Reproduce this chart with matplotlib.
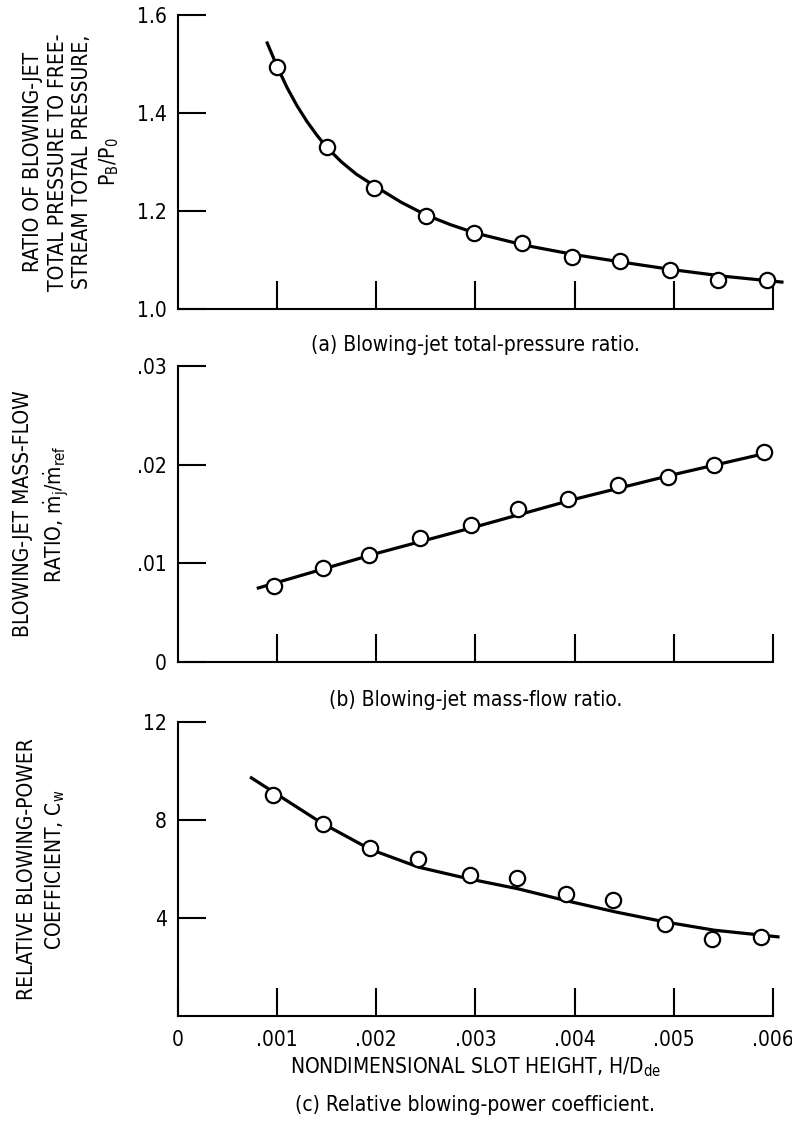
import matplotlib
matplotlib.use('Agg')
from matplotlib import pyplot as plt

# (a) blowing-jet total-pressure ratio
x_a = [0.00100, 0.00150, 0.00198, 0.00250, 0.00299, 0.00347, 0.00397, 0.00446, 0.00496, 0.00545, 0.00594]
y_a = [1.495, 1.330, 1.247, 1.189, 1.156, 1.135, 1.107, 1.099, 1.079, 1.060, 1.060]
curve_a_x = [0.00090, 0.00100, 0.00110, 0.00120, 0.00130, 0.00140, 0.00150, 0.00165, 0.00180, 0.00200,
             0.00225, 0.00250, 0.00275, 0.00300, 0.00350, 0.00400, 0.00450, 0.00500, 0.00550, 0.00609]
curve_a_y = [1.543, 1.495, 1.452, 1.415, 1.383, 1.355, 1.330, 1.300, 1.275, 1.249,
             1.218, 1.192, 1.172, 1.155, 1.130, 1.111, 1.095, 1.080, 1.067, 1.055]

# (b) blowing-jet mass-flow ratio
x_b = [0.00097, 0.00146, 0.00193, 0.00244, 0.00295, 0.00343, 0.00393, 0.00444, 0.00494, 0.00541, 0.00591]
y_b = [0.00767, 0.00955, 0.01086, 0.01257, 0.01387, 0.01548, 0.01647, 0.01798, 0.01877, 0.02000, 0.02130]
curve_b_x = [0.00081, 0.00200, 0.00300, 0.00400, 0.00500, 0.00595]
curve_b_y = [0.0075, 0.0110, 0.0137, 0.0165, 0.0190, 0.0212]

# (c) relative blowing-power coefficient
x_c = [0.00096, 0.00146, 0.00194, 0.00242, 0.00294, 0.00342, 0.00391, 0.00439, 0.00491, 0.00539, 0.00588]
y_c = [9.00, 7.85, 6.86, 6.41, 5.76, 5.62, 4.99, 4.72, 3.77, 3.16, 3.22]
curve_c_x = [0.00074, 0.00144, 0.00194, 0.00243, 0.00293, 0.00343, 0.00392, 0.00442, 0.00491, 0.00541, 0.00605]
curve_c_y = [9.72, 7.90, 6.80, 6.07, 5.60, 5.19, 4.70, 4.24, 3.84, 3.50, 3.23]

x_ticks = [0.001, 0.002, 0.003, 0.004, 0.005, 0.006]
x_ticklabels = ['0', '.001', '.002', '.003', '.004', '.005', '.006']

plt.rcParams['font.family'] = ['DejaVu Sans']
plt.rcParams['font.stretch'] = 'condensed'
plt.rcParams['mathtext.fontset'] = 'custom'
plt.rcParams['mathtext.rm'] = 'DejaVu Sans:stretch=condensed'

fig = plt.figure(figsize=(7.92, 11.32), dpi=100)
left, width = 0.2247, 0.7513
ax_a = fig.add_axes([left, 0.7270, width, 0.2597])
ax_b = fig.add_axes([left, 0.4152, width, 0.2615])
ax_c = fig.add_axes([left, 0.1025, width, 0.2597])


def style(ax):
    for s in ['top', 'right']:
        ax.spines[s].set_visible(False)
    for s in ['left', 'bottom']:
        ax.spines[s].set_linewidth(1.5)
    ax.set_xlim(0, 0.006)
    ax.tick_params(direction='in', length=20, width=1.5, labelsize=15, pad=8)
    ax.tick_params(axis='x', pad=10)


def draw(ax, cx, cy, px, py):
    ax.plot(cx, cy, color='black', lw=2.3, clip_on=False, zorder=2)
    ax.plot(px, py, 'o', ms=11, mfc='white', mec='black', mew=1.6, clip_on=False, zorder=3)


style(ax_a)
draw(ax_a, curve_a_x, curve_a_y, x_a, y_a)
ax_a.set_ylim(1.0, 1.6)
ax_a.set_yticks([1.0, 1.2, 1.4, 1.6])
ax_a.set_yticklabels(['1.0', '1.2', '1.4', '1.6'])
ax_a.set_xticks(x_ticks)
ax_a.set_xticklabels([])

style(ax_b)
draw(ax_b, curve_b_x, curve_b_y, x_b, y_b)
ax_b.set_ylim(0, 0.03)
ax_b.set_yticks([0, 0.01, 0.02, 0.03])
ax_b.set_yticklabels(['0', '.01', '.02', '.03'])
ax_b.set_xticks(x_ticks)
ax_b.set_xticklabels([])

style(ax_c)
draw(ax_c, curve_c_x, curve_c_y, x_c, y_c)
ax_c.set_ylim(0, 12)
ax_c.set_yticks([4, 8, 12])
ax_c.set_yticklabels(['4', '8', '12'])
ax_c.set_xticks([0] + x_ticks)
ax_c.set_xticklabels(x_ticklabels)
ax_c.set_xlabel(r'NONDIMENSIONAL SLOT HEIGHT, H/D$_{\mathrm{de}}$', fontsize=15, labelpad=4)

fig.text(0.091, 0.857, 'RATIO OF BLOWING-JET\nTOTAL PRESSURE TO FREE-\nSTREAM TOTAL PRESSURE,\n'
         r'$\mathrm{P_B/P_0}$', rotation=90, ha='center', va='center', fontsize=15,
         multialignment='center', linespacing=1.3)
fig.text(0.053, 0.546, 'BLOWING-JET MASS-FLOW\n' r'RATIO, $\dot{\mathrm{m}}_\mathrm{j}/\dot{\mathrm{m}}_\mathrm{ref}$',
         rotation=90, ha='center', va='center', fontsize=15, multialignment='center', linespacing=1.4)
fig.text(0.053, 0.232, 'RELATIVE BLOWING-POWER\n' r'COEFFICIENT, $\mathrm{C_w}$',
         rotation=90, ha='center', va='center', fontsize=15, multialignment='center', linespacing=1.4)

cx = left + width / 2
fig.text(cx, 0.6952, '(a) Blowing-jet total-pressure ratio.', ha='center', va='center', fontsize=15)
fig.text(cx, 0.3816, '(b) Blowing-jet mass-flow ratio.', ha='center', va='center', fontsize=15)
fig.text(cx, 0.0239, '(c) Relative blowing-power coefficient.', ha='center', va='center', fontsize=15)

fig.savefig('out.png', dpi=100)
